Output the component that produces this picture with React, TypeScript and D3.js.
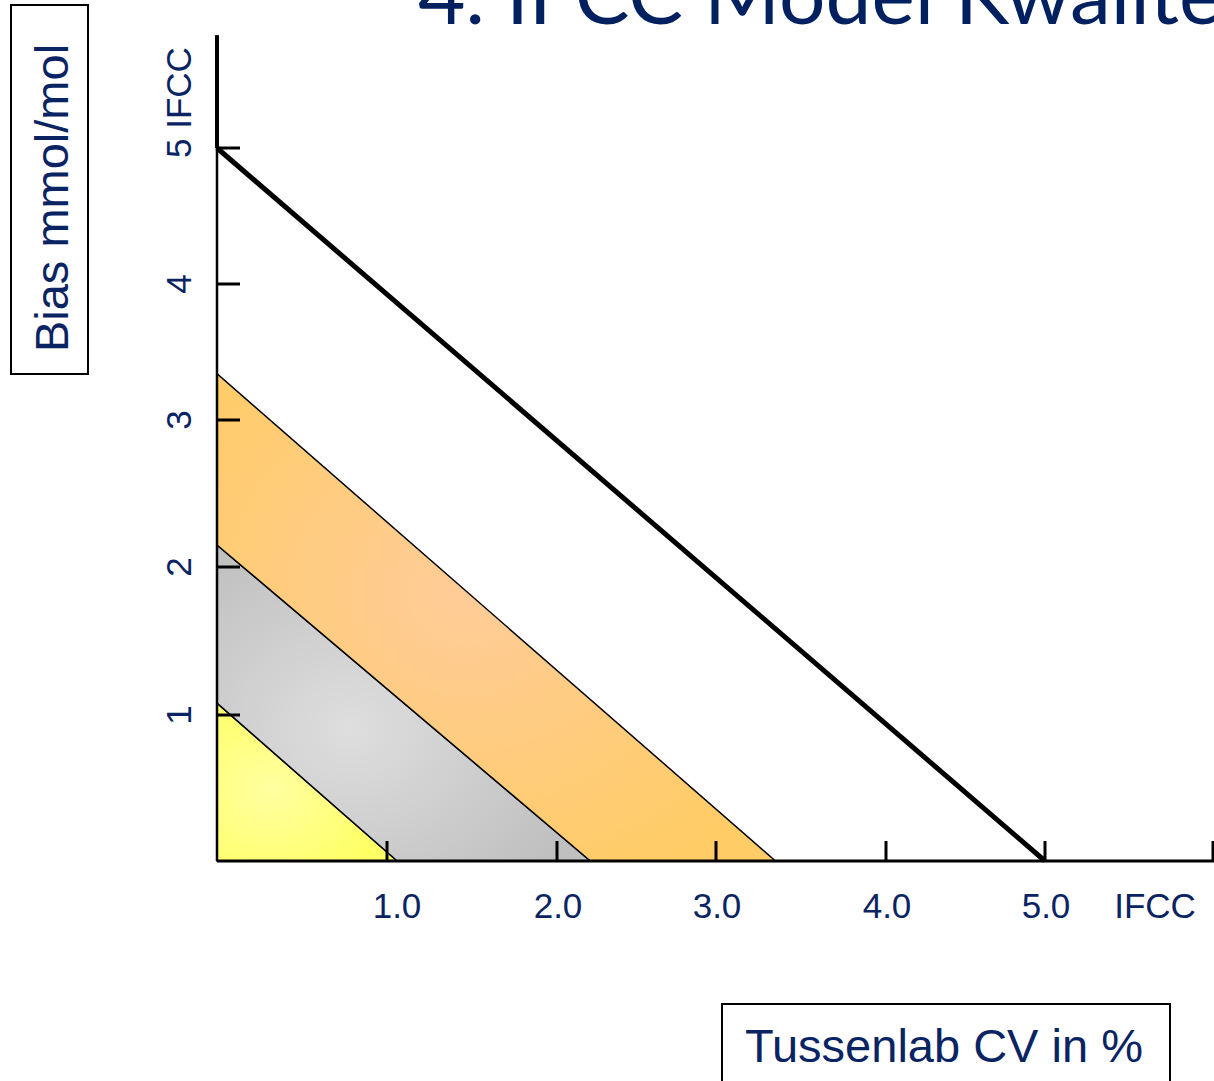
import React from "react";
import * as d3 from "d3";

// ---- data ----
const xTickValues = [1, 2, 3, 4, 5, 6];
const xTickLabels = ["1.0", "2.0", "3.0", "4.0", "5.0", ""];
const yTickValues = [1, 2, 3, 4, 5];
const yTickLabels = ["1", "2", "3", "4", "5 IFCC"];
// zone limits: bias intercept (y) and CV intercept (x)
const zoneNames = ["geel", "grijs", "oranje"];
const zoneBias = [1.08, 2.15, 3.34];
const zoneCV = [1.06, 2.21, 3.35];
const limitBias = 5;
const limitCV = 5;
const xUnitLabel = "IFCC";
const titleText = "4. IFCC Model Kwaliteit";
const yTitle = "Bias mmol/mol";
const xTitle = "Tussenlab CV in %";

const W = 1214;
const H = 1081;
const NAVY = "#0a2463";

const zoneGrad = [
  { edge: "#ffff66", center: "#ffffa0", cx: 0.3, cy: 0.55 },
  { edge: "#c0c0c0", center: "#dedede", cx: 0.36, cy: 0.58 },
  { edge: "#ffcc66", center: "#ffcc99", cx: 0.45, cy: 0.45 },
];

export default function App() {
  const x = d3
    .scaleLinear()
    .domain([0, 1, 2, 3, 4, 5, 6])
    .range([217, 387, 557, 716, 886, 1045, 1213]);
  const y = d3
    .scaleLinear()
    .domain([0, 1, 2, 3, 4, 5, 6])
    .range([861, 715, 567, 420, 284, 148, 12]);

  const line = d3.line<[number, number]>().x((d) => x(d[0])).y((d) => y(d[1]));

  const polys = zoneNames.map((_, i) => {
    const prevB = i === 0 ? 0 : zoneBias[i - 1];
    const prevC = i === 0 ? 0 : zoneCV[i - 1];
    const pts: [number, number][] =
      i === 0
        ? [[0, 0], [0, zoneBias[0]], [zoneCV[0], 0]]
        : [[0, prevB], [0, zoneBias[i]], [zoneCV[i], 0], [prevC, 0]];
    return line(pts) + "Z";
  });

  const yTop = 5.83;

  return (
    <svg
      width={W}
      height={H}
      style={{ position: "absolute", left: 0, top: 0, background: "#fff" }}
    >
      <defs>
        {zoneGrad.map((g, i) => (
          <radialGradient key={i} id={`zg${i}`} cx={g.cx} cy={g.cy} r={0.65}>
            <stop offset="0" stopColor={g.center} />
            <stop offset="1" stopColor={g.edge} />
          </radialGradient>
        ))}
      </defs>

      {/* title */}
      <text
        x={418}
        y={24}
        fontFamily="Lato, 'Open Sans', sans-serif"
        fontSize={82}
        fill="#002060"
      >
        {titleText}
      </text>

      {/* zones */}
      {polys.map((d, i) => (
        <path key={i} d={d} fill={`url(#zg${i})`} stroke="#000" strokeWidth={1.5} />
      ))}

      {/* limit line */}
      <path
        d={line([[0, limitBias], [limitCV, 0]]) || ""}
        fill="none"
        stroke="#000"
        strokeWidth={5}
      />

      {/* axes */}
      <line x1={x(0)} x2={x(0)} y1={y(0)} y2={y(limitBias)} stroke="#000" strokeWidth={2.5} />
      <line x1={x(0)} x2={x(0)} y1={y(limitBias)} y2={y(yTop)} stroke="#000" strokeWidth={4} />
      <line x1={x(0)} x2={x(6) + 1} y1={y(0)} y2={y(0)} stroke="#000" strokeWidth={3} />

      {xTickValues.map((v, i) => (
        <g key={i}>
          <line x1={x(v)} x2={x(v)} y1={y(0)} y2={y(0) - 20} stroke="#000" strokeWidth={3} />
          {xTickLabels[i] && (
            <text
              x={x(v) + (i === 0 ? 10 : 1)}
              y={918}
              textAnchor="middle"
              fontFamily="'Liberation Sans', Arial, sans-serif"
              fontSize={35}
              fill={NAVY}
            >
              {xTickLabels[i]}
            </text>
          )}
        </g>
      ))}
      <text
        x={1155}
        y={918}
        textAnchor="middle"
        fontFamily="'Liberation Sans', Arial, sans-serif"
        fontSize={35}
        fill={NAVY}
      >
        {xUnitLabel}
      </text>

      {yTickValues.map((v, i) => {
        const last = i === yTickValues.length - 1;
        return (
          <g key={i}>
            <line x1={x(0)} x2={x(0) + 23} y1={y(v)} y2={y(v)} stroke="#000" strokeWidth={3} />
            <text
              transform={`translate(191,${y(v) + (last ? 10 : 0)}) rotate(-90)`}
              textAnchor={last ? "start" : "middle"}
              fontFamily="'Liberation Sans', Arial, sans-serif"
              fontSize={35}
              fill={NAVY}
            >
              {yTickLabels[i]}
            </text>
          </g>
        );
      })}

      {/* y title box */}
      <rect x={11} y={5} width={77} height={369} fill="none" stroke="#000" strokeWidth={2} />
      <text
        transform="translate(68,198) rotate(-90)"
        textAnchor="middle"
        fontFamily="'Liberation Sans', Arial, sans-serif"
        fontSize={47}
        fill={NAVY}
      >
        {yTitle}
      </text>

      {/* x title box */}
      <rect x={722} y={1004} width={448} height={100} fill="none" stroke="#000" strokeWidth={2} />
      <text
        x={944}
        y={1062}
        textAnchor="middle"
        fontFamily="'Liberation Sans', Arial, sans-serif"
        fontSize={47}
        fill={NAVY}
      >
        {xTitle}
      </text>
    </svg>
  );
}
